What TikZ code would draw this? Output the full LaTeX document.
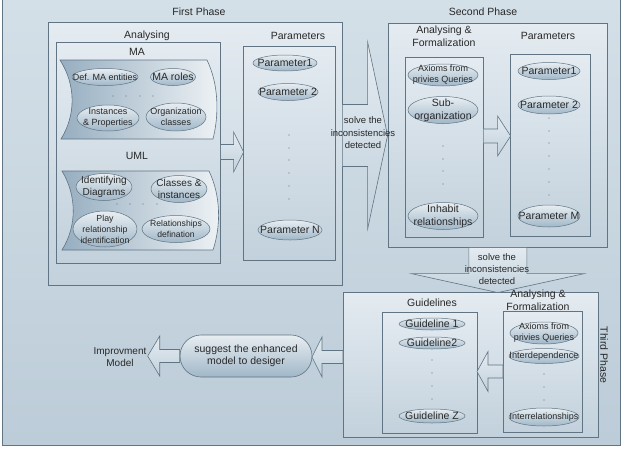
\documentclass[tikz,border=0pt]{standalone}
\usepackage{fontspec}
\setmainfont{Liberation Sans}
\usetikzlibrary{shapes.geometric, shapes.misc}
\definecolor{linec}{RGB}{96,116,132}
\definecolor{bgtop}{RGB}{212,224,232}
\definecolor{bgbot}{RGB}{188,204,216}
\definecolor{boxtop}{RGB}{228,235,241}
\definecolor{boxbot}{RGB}{194,209,220}
\definecolor{ovtop}{RGB}{232,238,242}
\definecolor{ovbot}{RGB}{160,183,200}
\definecolor{wavel}{RGB}{150,174,192}
\definecolor{waver}{RGB}{238,242,245}
\definecolor{txt}{RGB}{40,40,40}
\tikzset{
  phase/.style={draw=linec, line width=0.6pt, top color=boxtop, bottom color=boxbot, anchor=north west, inner sep=0pt},
  oval/.style={ellipse, draw=linec, line width=0.5pt, top color=ovtop, bottom color=ovbot, inner sep=0pt},
  ovaltext/.style={align=center, text=txt, inner sep=0pt},
  heading/.style={text=txt, align=center, inner sep=0pt, font=\fontsize{10.5}{13}\selectfont},
  arrowtext/.style={text=txt, align=center, inner sep=0pt, font=\fontsize{9.5}{12.5}\selectfont},
  arrowbody/.style={draw=linec, line width=0.6pt, top color=boxtop, bottom color=boxbot},
  wave/.style={draw=linec, line width=0.6pt, left color=wavel, right color=waver},
  pics/blockarrow/.style args={#1/#2/#3/#4}{code={
    \path[arrowbody] (0,#2) -- (#1-#4,#2) -- (#1-#4,#3) -- (#1,0) -- (#1-#4,-#3) -- (#1-#4,-#2) -- (0,-#2) -- cycle;
  }},
}

\begin{document}
\begin{tikzpicture}[x=1pt, y=-1pt]
\useasboundingbox (0,0) rectangle (626,450);
\fill[white] (0,0) rectangle (626,450);
\draw[draw=linec, top color=bgtop, bottom color=bgbot] (2,-2) rectangle (620,445);

% phases and their boxes
\node[phase, minimum width=294pt, minimum height=263pt] (ph1) at (48,22) {};
\node[phase, minimum width=164pt, minimum height=221pt] (ana1) at (56,42) {};
\node[phase, minimum width=92pt, minimum height=214pt] (par1) at (243,46) {};
\node[phase, minimum width=219pt, minimum height=224pt] (ph2) at (388,23) {};
\node[phase, minimum width=78pt, minimum height=180pt] (ana2) at (405,57) {};
\node[phase, minimum width=80pt, minimum height=182pt] (par2) at (510,54) {};
\node[phase, minimum width=255pt, minimum height=145pt] (ph3) at (343,292) {};
\node[phase, minimum width=95pt, minimum height=121pt] (gui3) at (382,312) {};
\node[phase, minimum width=79pt, minimum height=121pt] (ana3) at (503,311) {};

\node[heading] (ph1t) at (199,12) {First Phase};
\node[heading] (ana1t) at (147,36) {Analysing};
\node[heading] (mat) at (137,52) {MA};
\node[heading] (umlt) at (137,156) {UML};
\node[heading] (par1t) at (298,36) {Parameters};
\node[heading] (ph2t) at (483,12) {Second Phase};
\node[heading] (ana2t) at (444,36) {Analysing \&\\Formalization};
\node[heading] (par2t) at (548,36) {Parameters};
\node[heading] (gui3t) at (432,303) {Guidelines};
\node[heading] (ana3t) at (538,300) {Analysing \&\\Formalization};
\node[heading, rotate=-90] (ph3t) at (604,355) {Third Phase};

% MA and UML cards
\path[wave] (60,60) -- (207,60) .. controls (219,85) and (219,115) .. (213,139)
  -- (61,139) .. controls (76,115) and (76,85) .. (60,60) -- cycle;
\path[wave] (62,171) -- (209,171) .. controls (221,196) and (221,226) .. (213,250)
  -- (62,250) .. controls (77,226) and (77,196) .. (62,171) -- cycle;

% ovals: name/x/y/width/height/font size/text
\foreach \n/\x/\y/\w/\h/\s/\lbl in {
  ma1/105/77/66/17/9/{Def. MA entities},
  ma2/173/77/45/17/10.5/{MA roles},
  ma3/108/118/62/26/9/{Instances\\\& Properties},
  ma4/176/117/60/28/9/{Organization\\classes},
  uml1/104/187/56/27/10/{Identifying\\Diagrams},
  uml2/179/189/56/27/10/{Classes \&\\instances},
  uml3/105/229/64/36/8.8/{Play\\relationship\\identification},
  uml4/176/229/68/27/8.6/{Relationships\\defination},
  p11/285/63/64/16/10.5/{Parameter1},
  p12/288/92/60/17/10.5/{Parameter 2},
  p1n/290/230/64/20/10.5/{Parameter N},
  ax2/443/75/70/22/9/{Axioms from\\privies Queries},
  sub2/443/110/70/27/10.5/{Sub-\\organization},
  inh2/443/216/70/27/10.5/{Inhabit\\relationships},
  p21/549/71/62/17/10.5/{Parameter1},
  p22/549/105/62/18/10.5/{Parameter 2},
  p2m/549/216/62/22/10.5/{Parameter M},
  g1/432/324/66/12/10.5/{Guideline 1},
  g2/432/343/66/12/10.5/{Guideline2},
  gz/432/416/66/14/10.5/{Guideline Z},
  ax3/544/333/68/22/9/{Axioms from\\privies Queries},
  int3/544/356/70/15/9.2/{Interdependence},
  irl3/544/417/70/18/9/{Interrelationships}} {
  \pgfmathsetmacro\bskip{\s+2.3}
  \node[oval, minimum width=\w pt, minimum height=\h pt] (\n) at (\x,\y) {};
  \node[ovaltext, font=\fontsize{\s}{\bskip}\selectfont] at (\n) {\lbl};
}

% dots
\foreach \x in {113,126,140,153} \fill[linec] (\x,96) circle (0.7pt);
\foreach \x in {117,130,143,157} \fill[linec] (\x,204) circle (0.7pt);
\foreach \y in {135,148,160,173,186,199} \fill[linec] (289,\y) circle (0.7pt);
\foreach \y in {146,159,171,184} \fill[linec] (443,\y) circle (0.7pt);
\foreach \y in {118,131,143,156,169,182,195} \fill[linec] (549,\y) circle (0.7pt);
\foreach \y in {360,373,386,399} \fill[linec] (432,\y) circle (0.7pt);
\foreach \y in {374,387,400} \fill[linec] (544,\y) circle (0.7pt);

\node[rounded rectangle, draw=linec, line width=0.6pt, top color=ovtop, bottom color=ovbot,
  minimum width=132pt, minimum height=42pt, inner sep=0pt, text=txt, align=center,
  font=\fontsize{10.5}{12.5}\selectfont] (pill) at (246,356) {suggest the enhanced\\model to desiger};
\node[text=txt, align=center, font=\fontsize{10}{12}\selectfont] (model) at (120,357) {Improvment\\Model};

% block arrows
\pic at (ana1.east |- 0,152) {blockarrow=23/7.5/20/10};
\pic at (ph1.east |- 0,135.5) {blockarrow=45/31/93.5/20};
\pic at (ana2.east |- 0,136) {blockarrow=27/7/20/13};
\pic[rotate=-90] at (ph2.south) {blockarrow=45/29/86.5/19};
\pic[rotate=180] at (ana3.west |- 0,371.5) {blockarrow=26/6.5/20/11};
\pic[rotate=180] at (ph3.west |- 0,357) {blockarrow=31/6.5/20/10};
\pic[rotate=180] at (pill.west) {blockarrow=32/6.5/20/12};

\node[arrowtext] (fix1) at (363,133) {solve the\\inconsistencies\\detected};
\node[arrowtext, font=\fontsize{9.5}{12}\selectfont] (fix2) at (497,269) {solve the\\inconsistencies\\detected};
\end{tikzpicture}
\end{document}
